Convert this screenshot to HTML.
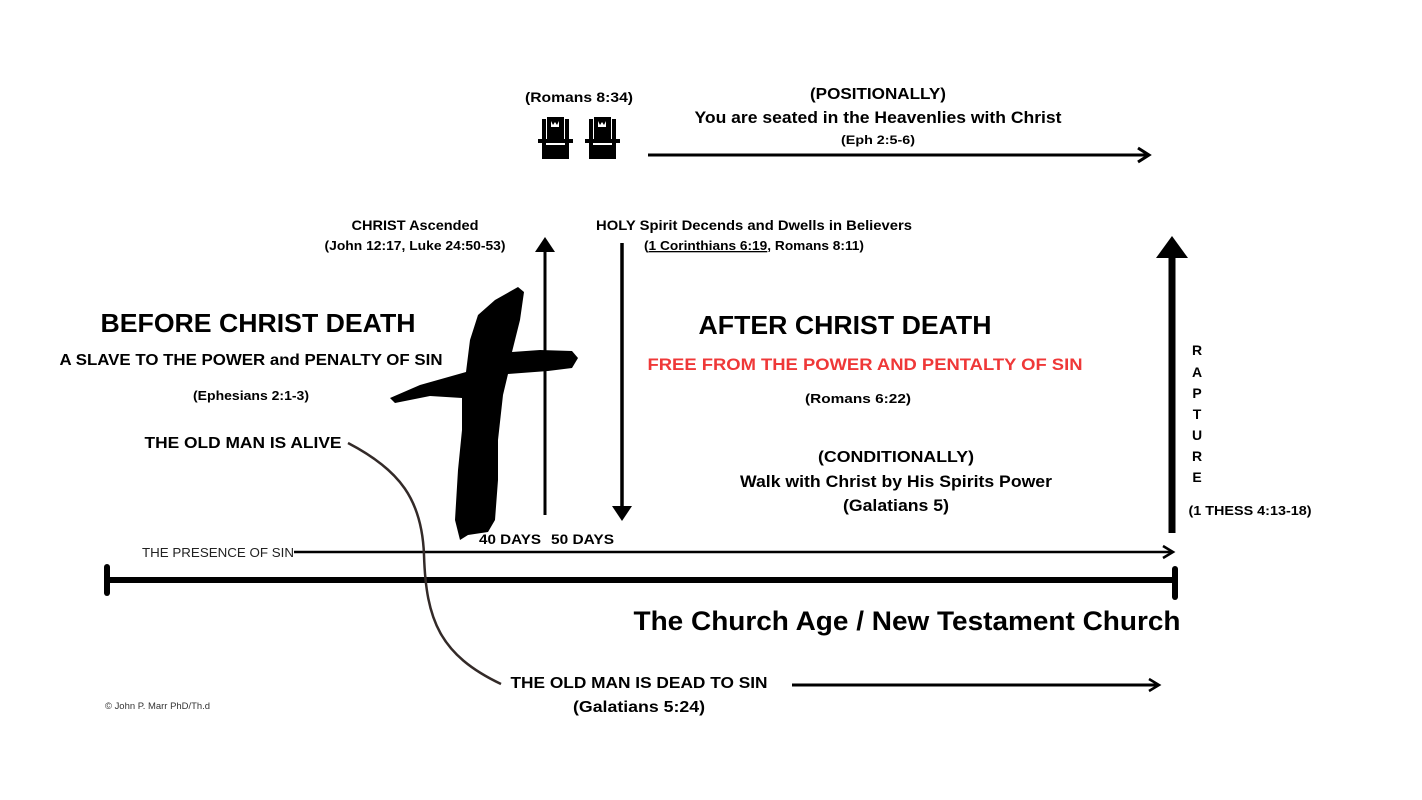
<!DOCTYPE html>
<html><head><meta charset="utf-8"><style>
html,body{margin:0;padding:0;background:#fff;}
svg{display:block;}
text{font-family:"Liberation Sans",sans-serif;font-weight:bold;fill:#000;}
</style></head><body>
<svg width="1422" height="800" viewBox="0 0 1422 800" xmlns="http://www.w3.org/2000/svg">
<rect width="1422" height="800" fill="#fff"/>
<text x="579" y="102" font-size="14" text-anchor="middle" textLength="108" lengthAdjust="spacingAndGlyphs">(Romans 8:34)</text>
<g id="throne">
 <rect x="542" y="119" width="4" height="40"/>
 <rect x="565" y="119" width="4" height="40"/>
 <rect x="547" y="117" width="17" height="22"/>
 <path d="M551 121 l2 4 l2-3 l2 3 l2-4 v6 h-8z" fill="#fff"/>
 <rect x="538" y="139" width="35" height="4"/>
 <rect x="546" y="145" width="19" height="14"/>
</g>
<use href="#throne" x="47"/>
<text x="878" y="99" font-size="16" text-anchor="middle" textLength="136" lengthAdjust="spacingAndGlyphs">(POSITIONALLY)</text>
<text x="878" y="123" font-size="17" text-anchor="middle" textLength="367" lengthAdjust="spacingAndGlyphs">You are seated in the Heavenlies with Christ</text>
<text x="878" y="144" font-size="12" text-anchor="middle" textLength="74" lengthAdjust="spacingAndGlyphs">(Eph 2:5-6)</text>
<line x1="648" y1="155" x2="1148" y2="155" stroke="#000" stroke-width="3"/>
<path d="M1138 148 L1149 155 L1138 162" fill="none" stroke="#000" stroke-width="3"/>

<text x="415" y="230" font-size="14" text-anchor="middle" textLength="127" lengthAdjust="spacingAndGlyphs">CHRIST Ascended</text>
<text x="415" y="250" font-size="13" text-anchor="middle" textLength="181" lengthAdjust="spacingAndGlyphs">(John 12:17, Luke 24:50-53)</text>
<text x="754" y="230" font-size="14" text-anchor="middle" textLength="316" lengthAdjust="spacingAndGlyphs">HOLY Spirit Decends and Dwells in Believers</text>
<text x="754" y="250" font-size="13" text-anchor="middle" textLength="220" lengthAdjust="spacingAndGlyphs">(<tspan text-decoration="underline">1 Corinthians 6:19</tspan>, Romans 8:11)</text>

<path d="M518 287 L524 292 L520 320 L512 352 L540 350 L572 351 L578 358 L572 368 L548 371 L508 374 L503 395 L498 440 L498 480 L495 520 L488 532 L468 535 L460 540 L455 520 L458 470 L462 430 L462 398 L430 396 L395 403 L390 398 L420 385 L466 372 L470 340 L478 315 L495 300 Z"/>

<line x1="545" y1="515" x2="545" y2="250" stroke="#000" stroke-width="3"/>
<path d="M535 252 L545 237 L555 252 Z"/>
<line x1="622" y1="243" x2="622" y2="508" stroke="#000" stroke-width="3.5"/>
<path d="M612 506 L622 521 L632 506 Z"/>
<text x="479" y="544" font-size="14" textLength="62" lengthAdjust="spacingAndGlyphs">40 DAYS</text>
<text x="551" y="544" font-size="14" textLength="63" lengthAdjust="spacingAndGlyphs">50 DAYS</text>

<text x="258" y="332" font-size="26" text-anchor="middle" textLength="315" lengthAdjust="spacingAndGlyphs">BEFORE CHRIST DEATH</text>
<text x="251" y="365" font-size="16" text-anchor="middle" textLength="383" lengthAdjust="spacingAndGlyphs">A SLAVE TO THE POWER and PENALTY OF SIN</text>
<text x="251" y="400" font-size="13" text-anchor="middle" textLength="116" lengthAdjust="spacingAndGlyphs">(Ephesians 2:1-3)</text>
<text x="243" y="448" font-size="16" text-anchor="middle" textLength="197" lengthAdjust="spacingAndGlyphs">THE OLD MAN IS ALIVE</text>

<text x="845" y="334" font-size="26" text-anchor="middle" textLength="293" lengthAdjust="spacingAndGlyphs">AFTER CHRIST DEATH</text>
<text x="865" y="370" font-size="17" text-anchor="middle" style="fill:#ef3838" textLength="435" lengthAdjust="spacingAndGlyphs">FREE FROM THE POWER AND PENTALTY OF SIN</text>
<text x="858" y="403" font-size="13" text-anchor="middle" textLength="106" lengthAdjust="spacingAndGlyphs">(Romans 6:22)</text>
<text x="896" y="462" font-size="16" text-anchor="middle" textLength="156" lengthAdjust="spacingAndGlyphs">(CONDITIONALLY)</text>
<text x="896" y="487" font-size="17" text-anchor="middle" textLength="312" lengthAdjust="spacingAndGlyphs">Walk with Christ by His Spirits Power</text>
<text x="896" y="511" font-size="17" text-anchor="middle" textLength="106" lengthAdjust="spacingAndGlyphs">(Galatians 5)</text>

<line x1="1172" y1="533" x2="1172" y2="255" stroke="#000" stroke-width="7"/>
<path d="M1156 258 L1172 236 L1188 258 Z"/>
<g font-size="14" text-anchor="middle">
<text x="1197" y="355">R</text>
<text x="1197" y="377">A</text>
<text x="1197" y="398">P</text>
<text x="1197" y="419">T</text>
<text x="1197" y="440">U</text>
<text x="1197" y="461">R</text>
<text x="1197" y="482">E</text>
</g>
<text x="1250" y="515" font-size="13" text-anchor="middle" textLength="123" lengthAdjust="spacingAndGlyphs">(1 THESS 4:13-18)</text>

<text x="142" y="557" font-size="13" style="font-weight:normal;fill:#222" textLength="152" lengthAdjust="spacingAndGlyphs">THE PRESENCE OF SIN</text>
<line x1="294" y1="552" x2="1172" y2="552" stroke="#000" stroke-width="2.5"/>
<path d="M1163 546 L1173 552 L1163 558" fill="none" stroke="#000" stroke-width="2.5"/>

<line x1="107" y1="580" x2="1175" y2="580" stroke="#000" stroke-width="6"/>
<line x1="107" y1="567" x2="107" y2="593" stroke="#000" stroke-width="6" stroke-linecap="round"/>
<line x1="1175" y1="569" x2="1175" y2="597" stroke="#000" stroke-width="6" stroke-linecap="round"/>
<text x="907" y="630" font-size="27" text-anchor="middle" textLength="547" lengthAdjust="spacingAndGlyphs">The Church Age / New Testament Church</text>

<path d="M348 443 C400 470 422 500 424 555 C426 620 440 655 501 684" fill="none" stroke="#332a28" stroke-width="2.5"/>

<text x="639" y="688" font-size="16" text-anchor="middle" textLength="257" lengthAdjust="spacingAndGlyphs">THE OLD MAN IS DEAD TO SIN</text>
<text x="639" y="712" font-size="16" text-anchor="middle" textLength="132" lengthAdjust="spacingAndGlyphs">(Galatians 5:24)</text>
<line x1="792" y1="685" x2="1158" y2="685" stroke="#000" stroke-width="3"/>
<path d="M1149 679 L1159 685 L1149 691" fill="none" stroke="#000" stroke-width="2.5"/>

<text x="105" y="709" font-size="9" style="font-weight:normal;fill:#333" textLength="105" lengthAdjust="spacingAndGlyphs">© John P. Marr PhD/Th.d</text>
</svg>
</body></html>
